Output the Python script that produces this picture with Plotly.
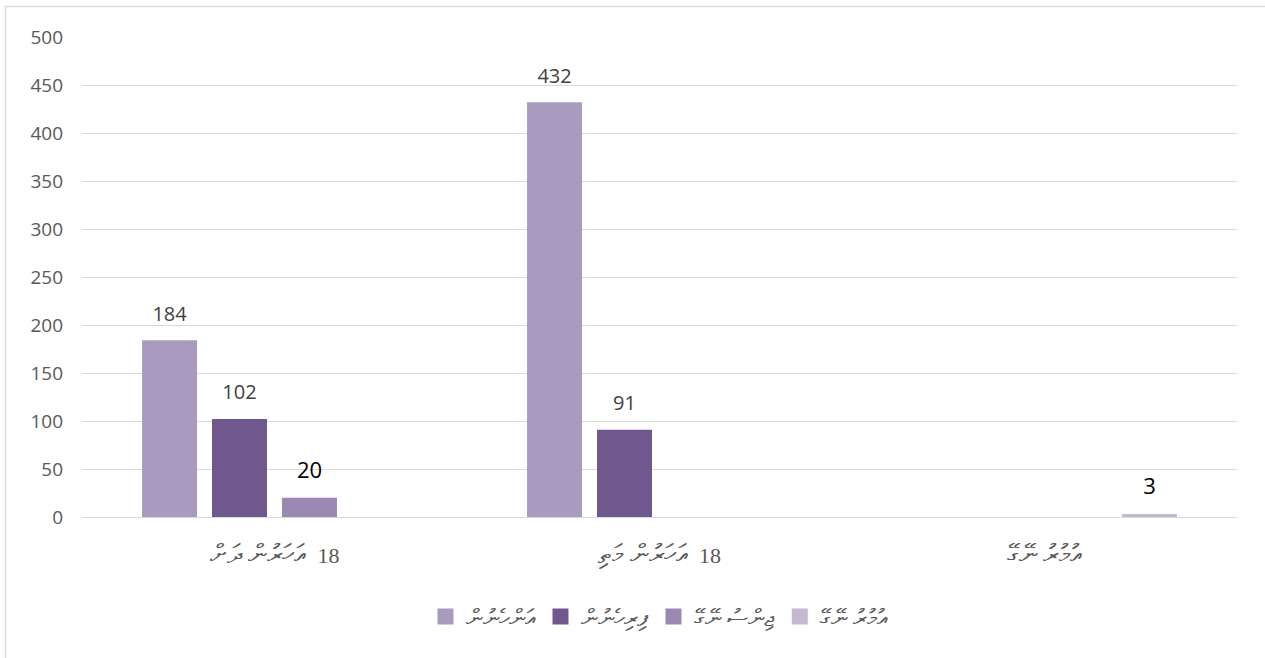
import plotly.graph_objects as go

categories = ["18 އަހަރުން ދަށް", "18 އަހަރުން މަތި", "އުމުރު ނޭގޭ"]
series_names = ["އަންހެނުން", "ފިރިހެނުން", "ޖިންސު ނޭގޭ", "އުމުރު ނޭގޭ"]
women = [184, 432, 0]
men = [102, 91, 0]
gender_unknown = [20, 0, 0]
age_unknown = [0, 0, 3]
y_ticks = [0, 50, 100, 150, 200, 250, 300, 350, 400, 450, 500]

colors = ["#A99BC0", "#70588E", "#9B88B3", "#C3B9D3"]
label_styles = [
    dict(color="#404040", size=20),
    dict(color="#404040", size=20),
    dict(color="#000000", size=22),
    dict(color="#000000", size=22),
]


def tick_html(cat):
    # right-to-left display; Thaana part larger than the digits
    parts = cat.split(" ", 1)
    if parts[0].isdigit():
        return "\u200f" + parts[0] + "\u00a0\u00a0<span style='font-size:27px'>" + parts[1] + "</span>"
    return "\u200f<span style='font-size:27px'>" + cat + "</span>"


W, H = 1265, 658
L, R, T, B = 82, 28, 37, 141
pw, ph = W - L - R, H - T - B
GAP = 0.273

fig = go.Figure()
all_series = [women, men, gender_unknown, age_unknown]
for name, vals, col in zip(series_names, all_series, colors):
    fig.add_trace(go.Bar(
        x=categories, y=vals, name=name, showlegend=False,
        marker=dict(color=col, line=dict(width=0)),
        hoverinfo="skip",
    ))
# value labels, grouped like the bars
for name, vals, ls in zip(series_names, all_series, label_styles):
    fig.add_trace(go.Scatter(
        x=categories, y=vals, name=name, showlegend=False,
        mode="markers+text",
        marker=dict(size=22, opacity=0),
        text=[str(v) if v else "" for v in vals],
        textposition="top center",
        textfont=dict(family="Open Sans", **ls),
        cliponaxis=False, hoverinfo="skip",
    ))
# legend entries with larger square swatches
for name, col in zip(series_names, colors):
    fig.add_trace(go.Scatter(
        x=[None], y=[None], name=name, mode="markers",
        marker=dict(symbol="square", size=18, color=col),
        xaxis="x2", yaxis="y2",
    ))


def px_x(p):
    return (p - L) / pw


def px_y(p):
    return (H - B - p) / ph


fig.update_layout(
    width=W, height=H,
    margin=dict(l=L, r=R, t=T, b=B),
    barmode="group", bargap=GAP, bargroupgap=0.214,
    scattermode="group", scattergap=GAP,
    plot_bgcolor="white", paper_bgcolor="white",
    font=dict(family="Open Sans", color="#595959", size=19),
    showlegend=True,
    legend=dict(orientation="h", x=0.5, xanchor="center", y=px_y(617), yanchor="middle",
                font=dict(size=24, color="#595959"), itemwidth=30, traceorder="normal"),
    xaxis=dict(showgrid=False, showline=False, ticks="", ticklabelstandoff=23,
               tickvals=categories, ticktext=[tick_html(c) for c in categories],
               tickfont=dict(family="Liberation Serif", size=22, color="#595959")),
    yaxis=dict(range=[0, 500], tickvals=y_ticks, showgrid=True, gridcolor="#D9D9D9", gridwidth=1,
               zeroline=True, zerolinecolor="#D9D9D9", zerolinewidth=1, showline=False,
               ticklabelstandoff=18, tickfont=dict(size=19, color="#595959")),
    xaxis2=dict(overlaying="x", visible=False, range=[0, 1]),
    yaxis2=dict(overlaying="y", visible=False, range=[0, 1]),
    shapes=[dict(type="rect", xref="paper", yref="paper",
                 x0=px_x(5.5), x1=px_x(1275), y0=px_y(6.5), y1=px_y(670),
                 line=dict(color="#D9D9D9", width=1.5), fillcolor="rgba(0,0,0,0)", layer="below")],
)

fig.write_html("out.html", config={"displayModeBar": False},
               post_script="document.body.style.margin='0px';document.body.style.overflow='hidden';")
